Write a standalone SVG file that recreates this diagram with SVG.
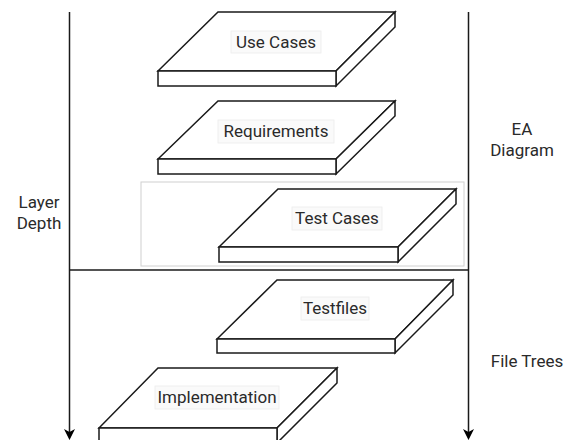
<svg xmlns="http://www.w3.org/2000/svg" width="574" height="440" viewBox="0 0 574 440">
<defs>
<style>
.slab{fill:#fff;stroke:#1a1a1a;stroke-width:1.5;stroke-linejoin:miter}
.lbl{font-family:Roboto,"Liberation Sans",sans-serif;font-size:17px;fill:#2a2a2a;text-anchor:middle}
.side{font-family:Roboto,"Liberation Sans",sans-serif;font-size:17px;fill:#2a2a2a;text-anchor:middle}
.lblbg{fill:#fafafa;stroke:#ececec;stroke-width:0.8}
.axis{stroke:#1a1a1a;stroke-width:1.5;fill:none}
</style>
</defs>
<rect x="0" y="0" width="574" height="440" fill="#fff"/>
<g id="connectors">
<rect x="141" y="182" width="323" height="84" fill="none" stroke="#d0d0d0" stroke-width="1"/>
<line class="axis" x1="69.5" y1="12" x2="69.5" y2="436"/>
<path d="M64,429 L69.5,440 L75,429 L69.5,432 Z" fill="#000"/>
<line class="axis" x1="468.5" y1="12" x2="468.5" y2="436"/>
<path d="M463,429 L468.5,440 L474,429 L468.5,432 Z" fill="#000"/>
<line class="axis" x1="69.5" y1="270" x2="468.5" y2="270"/>
</g>
<g id="use-cases">
<path class="slab" d="M158,71 L218,12 L395,12 L336,71 Z"/>
<path class="slab" d="M336,71 L395,12 L395,27 L336,86 Z"/>
<rect class="slab" x="158" y="71" width="178" height="15"/>
<rect class="lblbg" x="231" y="31" width="90" height="22"/>
<text class="lbl" x="276" y="48">Use Cases</text>
</g>
<g id="requirements">
<path class="slab" d="M158,159 L218,101 L395,101 L336,159 Z"/>
<path class="slab" d="M336,159 L395,101 L395,116 L336,174 Z"/>
<rect class="slab" x="158" y="159" width="178" height="15"/>
<rect class="lblbg" x="218" y="120" width="116" height="23"/>
<text class="lbl" x="276" y="137">Requirements</text>
</g>
<g id="test-cases">
<path class="slab" d="M219,247 L278,189 L456,189 L398,247 Z"/>
<path class="slab" d="M398,247 L456,189 L456,204 L398,262 Z"/>
<rect class="slab" x="219" y="247" width="179" height="15"/>
<rect class="lblbg" x="292" y="207" width="90" height="23"/>
<text class="lbl" x="337" y="224">Test Cases</text>
</g>
<g id="testfiles">
<path class="slab" d="M217,339 L277,280 L453,280 L395,339 Z"/>
<path class="slab" d="M395,339 L453,280 L453,295 L395,353 Z"/>
<rect class="slab" x="217" y="339" width="178" height="14"/>
<rect class="lblbg" x="301" y="297" width="68" height="23"/>
<text class="lbl" x="335" y="314">Testfiles</text>
</g>
<g id="implementation">
<path class="slab" d="M99,428 L158,368 L337,368 L277,428 Z"/>
<path class="slab" d="M277,428 L337,368 L337,383 L277,443 Z"/>
<rect class="slab" x="99" y="428" width="178" height="15"/>
<rect class="lblbg" x="155" y="386" width="124" height="23"/>
<text class="lbl" x="217" y="403">Implementation</text>
</g>
<g id="layer-depth">
<text class="side" x="39" y="208">Layer</text>
<text class="side" x="39" y="229">Depth</text>
</g>
<g id="ea-diagram">
<text class="side" x="522" y="135">EA</text>
<text class="side" x="522" y="156">Diagram</text>
</g>
<g id="file-trees">
<text class="side" x="527" y="367">File Trees</text>
</g>
</svg>
